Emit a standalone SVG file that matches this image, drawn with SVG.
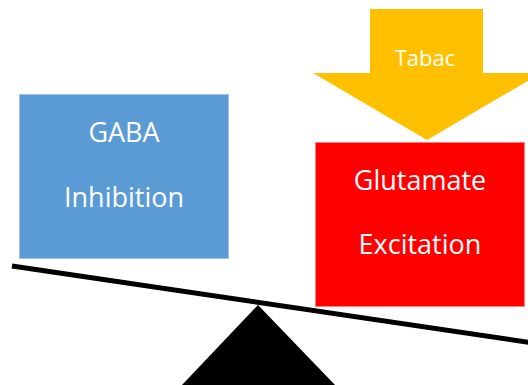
<svg xmlns="http://www.w3.org/2000/svg" width="528" height="385" viewBox="0 0 528 385">
<style>
.lbl{font-family:"Open Sans","Liberation Sans",sans-serif;fill:#FFFFFF;text-anchor:middle}
.big{font-size:27px}
.small{font-size:22px}
</style>
<rect width="528" height="385" fill="#FFFFFF"/>
<g id="fulcrum">
<polygon points="258,305 182,385 335,385" fill="#000000"/>
</g>
<g id="connectors">
<line x1="12" y1="266" x2="540" y2="344" stroke="#000000" stroke-width="5"/>
</g>
<g id="gaba">
<rect x="19.5" y="94.5" width="209" height="164" fill="#5B9BD5" stroke="#9DC3E6" stroke-width="1"/>
<text class="lbl big" x="124" y="142">GABA</text>
<text class="lbl big" x="124" y="207">Inhibition</text>
</g>
<g id="glutamate">
<rect x="315.5" y="142.5" width="209" height="164" fill="#FF0000" stroke="#FF8080" stroke-width="1"/>
<text class="lbl big" x="420" y="190">Glutamate</text>
<text class="lbl big" x="420" y="254">Excitation</text>
</g>
<g id="tabac">
<polygon points="370,9 483,9 483,73 541,73 427,140 313,73 370,73" fill="#FFC000"/>
<text class="lbl small" x="425" y="66">Tabac</text>
</g>
</svg>
